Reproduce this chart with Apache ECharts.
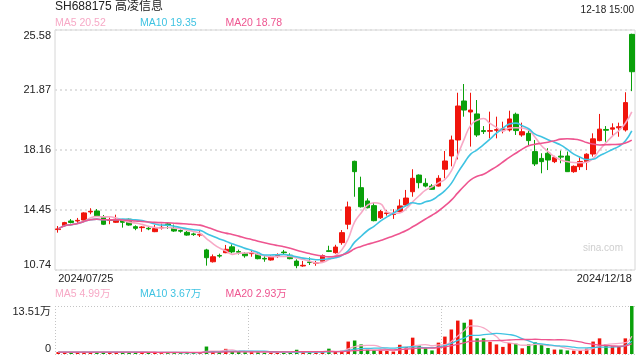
<!DOCTYPE html>
<html><head><meta charset="utf-8">
<script src="https://cdn.jsdelivr.net/npm/echarts@6/dist/echarts.min.js"></script>
<style>html,body{margin:0;padding:0;background:#fff}#c{width:640px;height:360px}</style>
</head><body><div id="c"></div>
<script>
const dates = ['2024/07/25','2024/07/26','2024/07/29','2024/07/30','2024/07/31',
'2024/08/01','2024/08/02','2024/08/05','2024/08/06','2024/08/07','2024/08/08','2024/08/09','2024/08/12','2024/08/13','2024/08/14','2024/08/15','2024/08/16','2024/08/29','2024/08/30',
'2024/09/02','2024/09/03','2024/09/04','2024/09/05','2024/09/06','2024/09/09','2024/09/10','2024/09/11','2024/09/12','2024/09/13','2024/09/18','2024/09/19','2024/09/20','2024/09/23','2024/09/24','2024/09/25','2024/09/26','2024/09/27','2024/09/30',
'2024/10/08','2024/10/09','2024/10/10','2024/10/11','2024/10/14','2024/10/15','2024/10/16','2024/10/17','2024/10/18','2024/10/21','2024/10/22','2024/10/23','2024/10/24','2024/10/25','2024/10/28','2024/10/29','2024/10/30','2024/10/31',
'2024/11/01','2024/11/04','2024/11/05','2024/11/06','2024/11/07','2024/11/08','2024/11/11','2024/11/12','2024/11/13','2024/11/14','2024/11/15','2024/11/18','2024/11/19','2024/11/20','2024/11/21','2024/11/22','2024/11/25','2024/11/26','2024/11/27','2024/11/28','2024/11/29',
'2024/12/02','2024/12/03','2024/12/04','2024/12/05','2024/12/06','2024/12/09','2024/12/10','2024/12/11','2024/12/12','2024/12/13','2024/12/16','2024/12/17','2024/12/18'];
const opens  = [13.24,13.49,13.77,13.77,13.83,14.33,14.39,14.04,13.80,13.69,13.81,13.88,13.42,13.36,13.32,13.11,13.34,13.59,13.32,13.18,13.07,12.97,12.90,11.98,11.25,11.64,11.81,12.17,11.88,11.75,11.75,11.71,11.46,11.36,11.60,11.85,11.65,11.29,10.99,11.24,11.15,11.28,11.93,11.81,12.43,13.57,17.46,15.83,15.01,14.72,13.97,14.23,14.17,14.35,14.76,15.58,16.61,16.10,15.93,15.93,16.97,17.79,18.78,21.19,20.51,20.39,19.36,19.32,19.38,19.42,19.40,20.37,19.09,19.19,18.06,17.64,17.96,17.44,17.78,17.79,16.82,17.13,17.44,17.91,18.74,19.43,19.45,19.53,19.40,25.31];
const closes = [13.28,13.67,13.68,13.81,14.27,14.37,14.10,13.57,13.84,13.88,13.69,13.52,13.32,13.40,13.28,13.30,13.38,13.49,13.15,13.14,12.90,12.93,12.94,11.50,11.56,11.60,12.02,11.86,11.84,11.62,11.79,11.44,11.42,11.56,11.64,11.81,11.44,11.01,11.03,11.20,11.19,11.63,11.89,12.16,13.05,14.64,16.82,14.65,14.59,13.79,14.35,14.27,14.21,14.70,15.19,16.41,16.14,15.93,15.73,16.41,17.48,18.78,20.88,20.63,20.63,19.09,19.30,19.36,19.42,19.46,20.08,19.36,19.29,18.74,17.30,17.44,17.54,17.70,17.72,16.82,17.15,17.45,17.90,18.85,19.45,19.38,19.53,19.60,21.09,23.00];
const lows   = [13.05,13.40,13.62,13.64,13.80,14.19,14.06,13.52,13.57,13.65,13.36,13.48,13.20,13.10,13.20,13.08,13.24,13.28,13.10,13.05,12.86,12.85,12.78,11.01,11.20,11.50,11.78,11.77,11.70,11.50,11.56,11.40,11.25,11.32,11.48,11.68,11.40,10.85,10.94,11.05,11.00,11.22,11.85,11.75,12.30,13.26,15.27,14.60,14.55,13.75,13.90,14.10,13.90,14.30,14.70,15.27,15.79,15.85,15.70,15.90,16.41,17.15,17.58,20.22,18.37,18.97,19.15,18.88,18.88,19.19,19.30,19.09,18.98,18.47,17.17,16.72,16.92,17.35,17.34,16.80,16.75,16.92,16.92,17.75,18.70,18.67,19.03,18.98,19.30,21.80];
const highs  = [13.46,13.72,13.89,13.96,14.31,14.56,14.51,14.14,13.98,14.16,13.85,13.92,13.50,13.45,13.46,13.52,13.60,13.65,13.55,13.25,13.15,13.05,13.14,12.05,11.70,11.75,12.29,12.33,12.00,11.85,11.98,11.85,11.60,11.65,11.77,11.98,11.77,11.40,11.30,11.52,11.30,11.70,12.24,12.30,13.21,14.97,17.50,16.51,15.17,14.90,14.45,14.45,14.50,15.11,15.69,16.97,16.65,16.41,16.05,16.60,18.10,19.05,21.70,22.24,21.70,21.25,19.64,20.53,20.22,19.91,20.59,20.47,19.85,19.36,18.78,17.96,18.27,17.80,18.12,18.06,17.21,17.75,17.96,19.19,20.39,19.64,19.81,19.85,21.73,25.35];
const volumes = [0.55,0.5,0.45,0.5,0.6,0.55,0.5,0.55,0.45,0.5,0.45,0.5,0.4,0.45,0.4,0.45,0.4,0.4,0.45,0.35,0.4,0.35,0.4,2.1,0.75,0.55,1.45,0.8,0.55,0.5,0.5,0.55,0.45,0.5,0.45,0.45,0.5,1.2,0.6,0.45,0.45,0.55,1.5,0.7,0.9,3.5,3.8,2.7,1.2,1.0,0.95,0.9,0.7,2.6,2.0,4.6,2.4,1.6,1.0,3.2,4.9,6.9,9.4,8.8,9.7,4.4,4.4,3.4,2.7,2.0,3.1,2.9,1.6,2.7,3.3,2.6,1.7,1.25,1.25,1.0,0.95,0.95,1.5,3.5,4.4,2.7,2.2,2.2,4.4,13.51];
const priceAxis = {min: 10.74, max: 25.58, step: 3.71};
const volAxis = {min: 0, max: 13.51};
const titleText = 'SH688175 高凌信息';
const timeText = '12-18 15:00';
const maLabels = ['MA5 20.52', 'MA10 19.35', 'MA20 18.78'];
const volMaLabels = ['MA5 4.99万', 'MA10 3.67万', 'MA20 2.93万'];
const watermark = 'sina.com';

const UP = '#f0140c', DOWN = '#0aa00a';
const MA_COLORS = ['#f7a9c6', '#3fc3e2', '#ee5590'];
const FONT = 'Arial, "Liberation Sans", "Noto Sans CJK SC", sans-serif';

function ma(arr, n) {
  return arr.map((_, i) => {
    const s = Math.max(0, i - n + 1); let sum = 0;
    for (let k = s; k <= i; k++) sum += arr[k];
    return +(sum / (i - s + 1)).toFixed(3);
  });
}
const kdata = dates.map((d, i) => [opens[i], closes[i], lows[i], highs[i]]);
const vdata = volumes.map((v, i) => ({value: v, itemStyle: {color: closes[i] >= opens[i] ? UP : DOWN}}));
const periods = [5, 10, 20];

const chart = echarts.init(document.getElementById('c'), null, {renderer: 'canvas'});
const legendX = [55, 140, 225.5];
const graphics = [
  {type: 'text', left: 55, top: 1, style: {text: titleText, font: '12px ' + FONT, fill: '#222'}},
  {type: 'text', right: 6, top: 5, style: {text: timeText, font: '10px ' + FONT, fill: '#222'}},
  {type: 'text', left: 583, top: 243, style: {text: watermark, font: '10px ' + FONT, fill: '#cfcfcf'}}
];
maLabels.forEach((t, k) => graphics.push({type: 'text', left: legendX[k], top: 18, style: {text: t, font: '10.5px ' + FONT, fill: MA_COLORS[k]}}));
volMaLabels.forEach((t, k) => graphics.push({type: 'text', left: legendX[k], top: 289, style: {text: t, font: '10.5px ' + FONT, fill: MA_COLORS[k]}}));

const series = [{
  type: 'candlestick', xAxisIndex: 0, yAxisIndex: 0, data: kdata, barWidth: 5, z: 2,
  itemStyle: {color: UP, color0: DOWN, borderColor: UP, borderColor0: DOWN, borderWidth: 1}
}];
periods.forEach((p, k) => series.push({
  type: 'line', xAxisIndex: 0, yAxisIndex: 0, data: ma(closes, p), smooth: true, showSymbol: false, z: 3,
  lineStyle: {color: MA_COLORS[k], width: 1.6}
}));
series.push({type: 'bar', xAxisIndex: 1, yAxisIndex: 1, data: vdata, barWidth: 3.5, z: 2});
periods.forEach((p, k) => series.push({
  type: 'line', xAxisIndex: 1, yAxisIndex: 1, data: ma(volumes, p), smooth: true, showSymbol: false, z: 3,
  lineStyle: {color: MA_COLORS[k], width: 1.3}
}));

chart.setOption({
  animation: false,
  textStyle: {fontFamily: FONT},
  grid: [
    {left: 55, top: 30, width: 580, height: 240, show: true, borderColor: '#d6d6d6', borderWidth: 1, backgroundColor: 'transparent'},
    {left: 55, top: 306, width: 580, height: 48}
  ],
  xAxis: [
    {type: 'category', gridIndex: 0, data: dates, boundaryGap: true,
     axisLine: {show: false}, axisTick: {show: false}, splitLine: {show: false},
     axisLabel: {interval: (i) => i === 0 || i === dates.length - 1, color: '#222', fontSize: 11, margin: 3,
                 alignMinLabel: 'left', alignMaxLabel: 'right', fontFamily: FONT}},
    {type: 'category', gridIndex: 1, data: dates, boundaryGap: true,
     axisLine: {show: false}, axisTick: {show: false}, axisLabel: {show: false}, splitLine: {show: false}},
    {type: 'value', gridIndex: 1, min: 0, max: 3, interval: 1, position: 'top',
     axisLine: {show: false}, axisTick: {show: false}, axisLabel: {show: false},
     splitLine: {show: true, showMaxLine: false, lineStyle: {type: [1, 2], color: '#c4c4c4', width: 1}}}
  ],
  yAxis: [
    {type: 'value', gridIndex: 0, min: priceAxis.min, max: priceAxis.max, interval: priceAxis.step,
     axisLine: {show: false}, axisTick: {show: false},
     axisLabel: {formatter: (v) => v.toFixed(2), color: '#222', fontSize: 11, margin: 4, fontFamily: FONT,
                 verticalAlignMinLabel: 'bottom', verticalAlignMaxLabel: 'top'},
     splitLine: {show: true, lineStyle: {type: [2, 3], color: '#e0e0e0', width: 2}}},
    {type: 'value', gridIndex: 1, min: volAxis.min, max: volAxis.max, interval: volAxis.max - volAxis.min,
     axisLine: {show: false}, axisTick: {show: false},
     axisLabel: {formatter: (v) => v === 0 ? '0' : v.toFixed(2) + '万', color: '#222', fontSize: 11, margin: 4, fontFamily: FONT,
                 verticalAlignMinLabel: 'bottom', verticalAlignMaxLabel: 'top'},
     splitLine: {show: true, lineStyle: {type: [1, 2], color: '#c4c4c4', width: 1}}}
  ],
  graphic: graphics,
  series: series
});
</script></body></html>
